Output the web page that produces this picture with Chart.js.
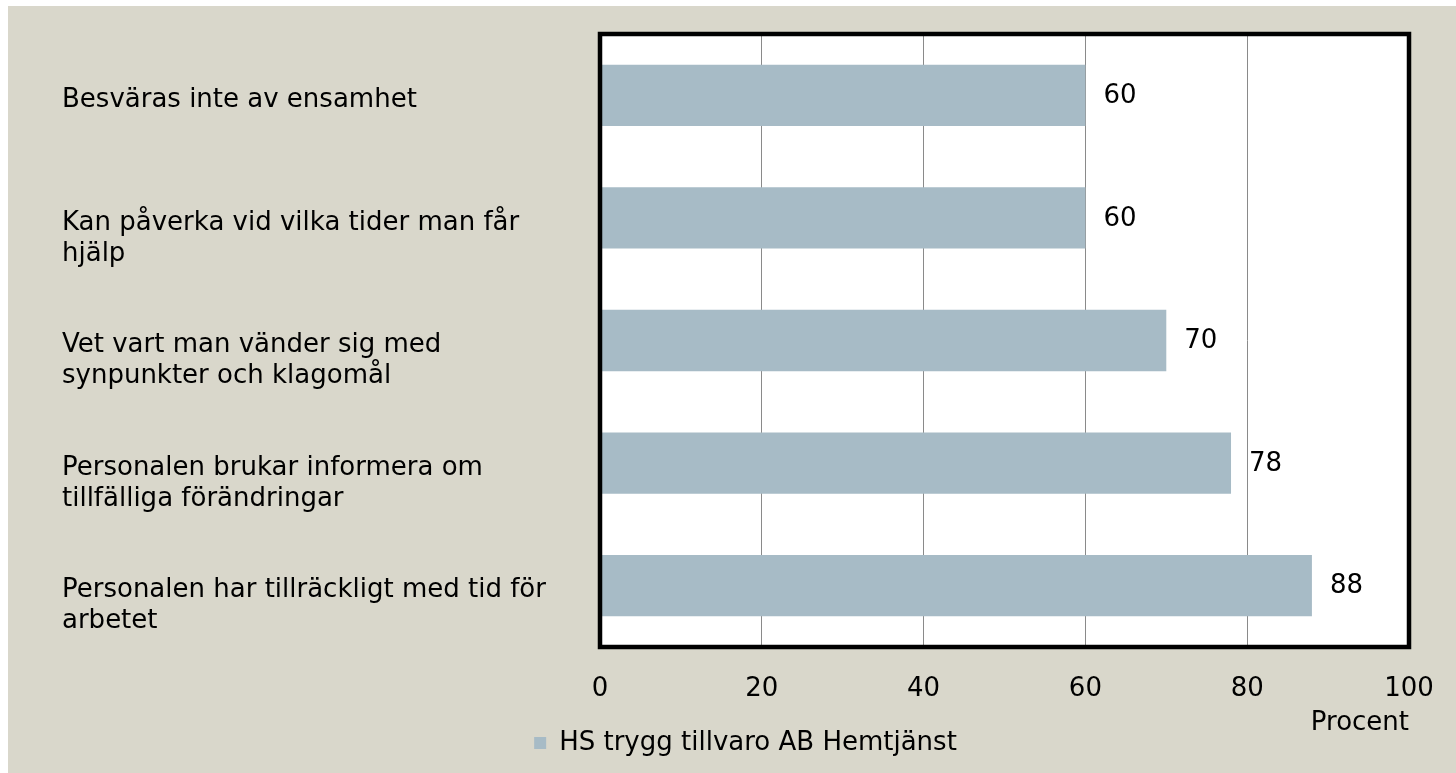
<!DOCTYPE html>
<html>
<head>
<meta charset="utf-8">
<script src="https://cdn.jsdelivr.net/npm/chart.js@4.4.1/dist/chart.umd.min.js"></script>
<style>
html,body{margin:0;padding:0;background:#fff;}
#wrap{width:1456px;height:773px;position:relative;}
</style>
</head>
<body>
<div id="wrap"><canvas id="c" width="1456" height="773"></canvas></div>
<script>
const categories = [
  ["Besväras inte av ensamhet"],
  ["Kan påverka vid vilka tider man får", "hjälp"],
  ["Vet vart man vänder sig med", "synpunkter och klagomål"],
  ["Personalen brukar informera om", "tillfälliga förändringar"],
  ["Personalen har tillräckligt med tid för", "arbetet"]
];
const seriesName = "HS trygg tillvaro AB Hemtjänst";
const values = [60, 60, 70, 78, 88];
const xTicks = [0, 20, 40, 60, 80, 100];
const xTitle = "Procent";

const FONT = "'DejaVu Sans', sans-serif";
const FS = 26;
const BEIGE = '#D9D7CB';
const BAR = '#A7BBC6';
const LABEL_SHIFT = 20;

const bgPlugin = {
  id: 'bg',
  beforeDraw(chart) {
    const c = chart.ctx;
    c.save();
    c.fillStyle = '#ffffff';
    c.fillRect(0, 0, chart.width, chart.height);
    c.fillStyle = BEIGE;
    c.fillRect(8, 6, chart.width - 8, chart.height - 6);
    const a = chart.chartArea;
    c.fillStyle = '#ffffff';
    c.fillRect(a.left, a.top, a.right - a.left, a.bottom - a.top);
    c.restore();
  },
  afterDatasetsDraw(chart) {
    const c = chart.ctx;
    const a = chart.chartArea;
    c.save();
    const meta = chart.getDatasetMeta(0);
    c.font = FS + 'px ' + FONT;
    c.fillStyle = '#000';
    c.textAlign = 'left';
    c.textBaseline = 'middle';
    meta.data.forEach((bar, i) => {
      c.fillText(String(values[i]), bar.x + 18, bar.y + 1);
    });
    c.strokeStyle = '#000';
    c.lineWidth = 4.5;
    c.strokeRect(a.left, a.top, a.right - a.left, a.bottom - a.top);
    const ys = chart.scales.y;
    categories.forEach((lines, i) => {
      const y0 = ys.getPixelForValue(i) + 5;
      lines.forEach((ln, k) => {
        c.fillText(ln, ys.left - LABEL_SHIFT, y0 + k * 31);
      });
    });
    c.restore();
  }
};

new Chart(document.getElementById('c'), {
  type: 'bar',
  data: {
    labels: categories.map(l => l.join(' ')),
    datasets: [{
      label: seriesName,
      data: values,
      backgroundColor: BAR,
      borderWidth: 0,
      categoryPercentage: 1.0,
      barPercentage: 0.5
    }]
  },
  options: {
    indexAxis: 'y',
    responsive: false,
    animation: false,
    devicePixelRatio: 1,
    layout: { padding: { left: 62 + LABEL_SHIFT, top: 34, right: 47, bottom: 7 } },
    scales: {
      x: {
        min: 0, max: 100,
        afterBuildTicks(scale) { scale.ticks = xTicks.map(v => ({ value: v })); },
        afterFit(scale) { scale.paddingRight = 0; scale.paddingLeft = 0; },
        grid: { color: '#8a8a8a', lineWidth: 1, drawTicks: false },
        border: { display: false },
        ticks: { color: '#000', font: { family: FONT, size: FS, lineHeight: 1 }, padding: 29 },
        title: {
          display: true, text: xTitle, align: 'end', color: '#000',
          font: { family: FONT, size: FS, lineHeight: 1 },
          padding: { top: -21, bottom: -10 }
        }
      },
      y: {
        grid: { display: false },
        border: { display: false },
        ticks: { display: false },
        afterFit(scale) { scale.width = 538 - LABEL_SHIFT; }
      }
    },
    plugins: {
      legend: {
        position: 'bottom',
        labels: {
          color: '#000', boxWidth: 12, boxHeight: 12, padding: 4,
          font: { family: FONT, size: FS }
        }
      },
      tooltip: { enabled: false }
    }
  },
  plugins: [bgPlugin]
});
</script>
</body>
</html>
